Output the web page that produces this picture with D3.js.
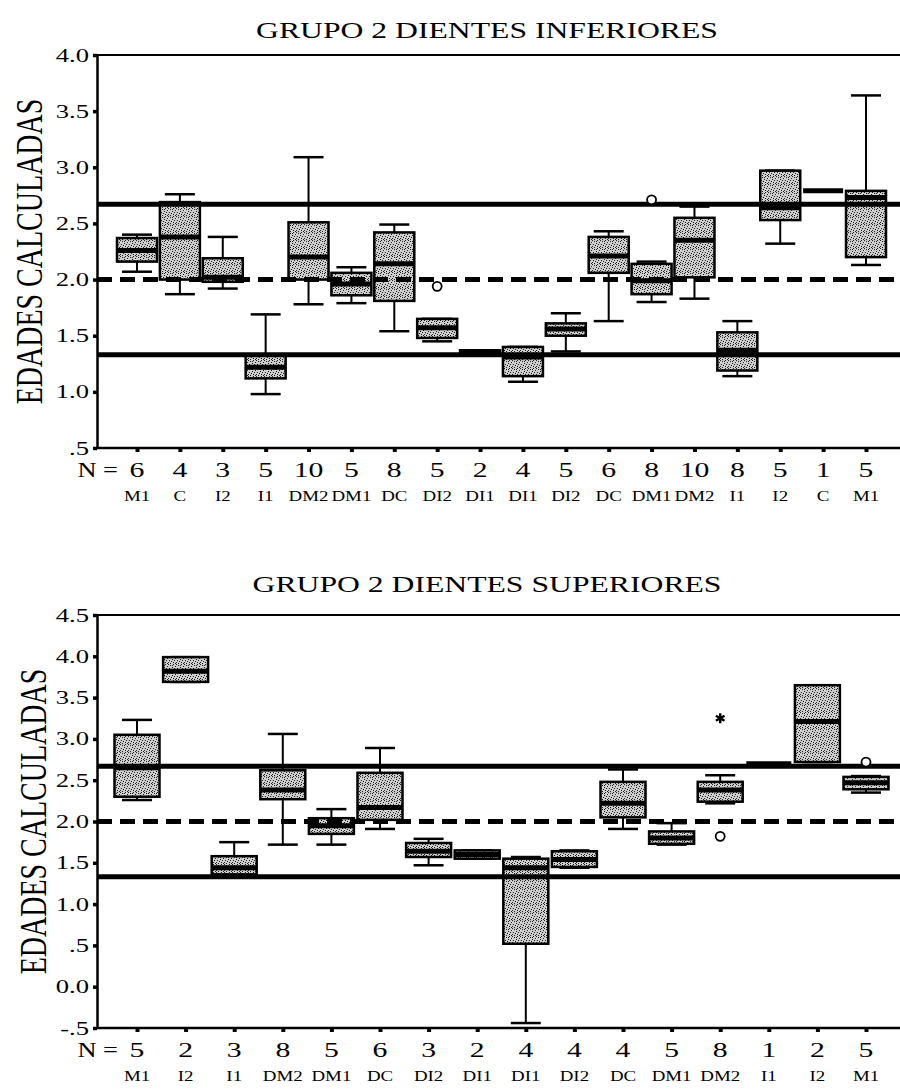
<!DOCTYPE html>
<html><head><meta charset="utf-8">
<script src="https://cdn.jsdelivr.net/npm/d3@7"></script>
<style>body{margin:0;background:#fff}svg{display:block}</style>
</head><body>
<script>
// ---------- DATA ----------
const topTitle = "GRUPO 2 DIENTES INFERIORES";
const topCats = ["M1","C","I2","I1","DM2","DM1","DC","DI2","DI1","DI1","DI2","DC","DM1","DM2","I1","I2","C","M1"];
const topN    = [6,4,3,5,10,5,8,5,2,4,5,6,8,10,8,5,1,5];
const topLo   = [2.07,1.87,1.92,0.98,1.78,1.79,1.54,1.45,1.33,1.09,1.36,1.63,1.80,1.83,1.14,2.32,2.79,2.13];
const topQ1   = [2.16,2.00,1.98,1.12,2.00,1.86,1.81,1.48,1.33,1.14,1.50,2.06,1.87,2.02,1.19,2.53,2.79,2.20];
const topMed  = [2.26,2.38,2.02,1.22,2.20,1.96,2.14,1.57,1.35,1.31,1.56,2.21,1.99,2.35,1.37,2.64,2.79,2.73];
const topQ3   = [2.37,2.69,2.19,1.33,2.51,2.06,2.42,1.65,1.37,1.40,1.61,2.38,2.14,2.55,1.53,2.97,2.79,2.79];
const topHi   = [2.40,2.76,2.38,1.69,3.09,2.11,2.49,1.65,1.37,1.40,1.70,2.43,2.16,2.65,1.63,2.97,2.79,3.64];
const topOutIdx = [7,12];
const topOutVal = [1.94,2.71];
const topOutType = ["o","o"];
const topTicks = [0.5,1.0,1.5,2.0,2.5,3.0,3.5,4.0];
const topTickLabels = [".5","1.0","1.5","2.0","2.5","3.0","3.5","4.0"];

const botTitle = "GRUPO 2 DIENTES SUPERIORES";
const botCats = ["M1","I2","I1","DM2","DM1","DC","DI2","DI1","DI1","DI2","DC","DM1","DM2","I1","I2","M1"];
const botN    = [5,2,3,8,5,6,3,2,4,4,4,5,8,1,2,5];
const botLo   = [2.26,3.69,1.33,1.72,1.72,1.91,1.47,1.55,-0.44,1.44,1.91,1.72,2.22,2.70,2.72,2.35];
const botQ1   = [2.30,3.69,1.36,2.27,1.85,2.02,1.57,1.55,0.52,1.45,2.05,1.73,2.24,2.70,2.72,2.39];
const botMed  = [2.65,3.82,1.44,2.38,1.95,2.17,1.64,1.60,1.44,1.54,2.22,1.80,2.38,2.70,3.21,2.47];
const botQ3   = [3.05,3.99,1.58,2.62,2.04,2.59,1.74,1.65,1.55,1.64,2.48,1.88,2.48,2.70,3.65,2.54];
const botHi   = [3.23,3.99,1.75,3.06,2.15,2.89,1.79,1.65,1.57,1.65,2.63,1.98,2.56,2.70,3.65,2.55];
const botOutIdx = [12,12,15];
const botOutVal = [1.82,3.25,2.72];
const botOutType = ["o","*","o"];
const botTicks = [-0.5,0,0.5,1.0,1.5,2.0,2.5,3.0,3.5,4.0,4.5];
const botTickLabels = ["-.5","0.0",".5","1.0","1.5","2.0","2.5","3.0","3.5","4.0","4.5"];

const refValues = [2.67, 2.0, 1.33];
const refDashed = [false, true, false];
const yTitle = "EDADES CALCULADAS";

// ---------- DRAW ----------
const W = 900, H = 1090, SX = 1.35;
const FONT = "'Liberation Serif','Times New Roman',serif";
const svg = d3.select("body").append("svg").attr("width", W).attr("height", H);

const defs = svg.append("defs");
const pat = defs.append("pattern").attr("id","stip").attr("width",8).attr("height",8)
  .attr("patternUnits","userSpaceOnUse");
pat.append("rect").attr("width",8).attr("height",8).attr("fill","#cdcdcd");
[[0,0],[5,0],[2,1],[7,2],[4,3],[1,4],[6,4],[3,5],[0,6],[5,6],[2,7],[7,7],[4,1]].forEach(p=>pat.append("rect")
  .attr("x",p[0]).attr("y",p[1]).attr("width",1).attr("height",1).attr("fill","#222"));

function stext(g, x, y, str, size, anchor, sx, extra){
  const gg = g.append("g").attr("transform", `translate(${x},${y}) scale(${sx||SX},1)` + (extra||""));
  return gg.append("text").attr("text-anchor", anchor||"middle").attr("font-family", FONT)
    .attr("font-size", size).attr("fill","#000").text(str);
}

function panel(cfg){
  const g = svg.append("g");
  const y = d3.scaleLinear().domain(cfg.domain).range([cfg.yBot, cfg.yTop]);
  const x = d3.scalePoint().domain(d3.range(cfg.cats.length)).range([137, 866]);
  const xL = 97, xR = 905;
  const bw = cfg.bw, cw = cfg.cw;

  stext(g, 487, cfg.titleY, cfg.title, 24, "middle", 1.32);
  stext(g, cfg.yTitleX, (cfg.yTop+cfg.yBot)/2, yTitle, 28, "middle", SX, " rotate(-90)");

  g.append("line").attr("x1",xL).attr("x2",xR).attr("y1",cfg.yTop).attr("y2",cfg.yTop)
    .attr("stroke","#000").attr("stroke-width",2);

  const ay = g.append("g").attr("transform",`translate(${xL},0)`)
    .call(d3.axisLeft(y).tickValues(cfg.ticks).tickSize(4).tickSizeOuter(0).tickFormat(""));
  ay.select(".domain").attr("stroke","#000").attr("stroke-width",2.5);
  ay.selectAll(".tick line").attr("stroke","#000").attr("stroke-width",3.5);
  cfg.ticks.forEach((t,i)=>{
    stext(g, 89, y(t)+6.5, cfg.tickLabels[i], 19, "end", 1.4);
  });

  const ax = g.append("g").attr("transform",`translate(0,${cfg.yBot})`)
    .call(d3.axisBottom(x).tickSize(4).tickSizeOuter(0).tickFormat(""));
  ax.select(".domain").remove();
  g.append("line").attr("x1",xL).attr("x2",xR).attr("y1",cfg.yBot).attr("y2",cfg.yBot)
    .attr("stroke","#000").attr("stroke-width",2.5);
  ax.selectAll(".tick line").attr("stroke","#000").attr("stroke-width",4);

  stext(g, 118, cfg.yBot+29, "N =", 22, "end", 1.2);
  cfg.n.forEach((v,i)=> stext(g, x(i), cfg.yBot+29, String(v), 22, "middle", SX));
  cfg.cats.forEach((c,i)=> stext(g, x(i), cfg.yBot+53, c, 14, "middle", SX));

  const boxes = g.append("g");
  cfg.cats.forEach((c,i)=>{
    const cx = x(i);
    const bg = boxes.append("g");
    if (cfg.n[i] === 1){
      bg.append("line").attr("x1",cx-bw/2).attr("x2",cx+bw/2).attr("y1",y(cfg.med[i])).attr("y2",y(cfg.med[i]))
        .attr("stroke","#000").attr("stroke-width",5);
      return;
    }
    bg.append("line").attr("x1",cx).attr("x2",cx).attr("y1",y(cfg.hi[i])).attr("y2",y(cfg.q3[i]))
      .attr("stroke","#000").attr("stroke-width",2);
    bg.append("line").attr("x1",cx).attr("x2",cx).attr("y1",y(cfg.q1[i])).attr("y2",y(cfg.lo[i]))
      .attr("stroke","#000").attr("stroke-width",2);
    [cfg.hi[i], cfg.lo[i]].forEach(v=>{
      bg.append("line").attr("x1",cx-cw/2).attr("x2",cx+cw/2).attr("y1",y(v)).attr("y2",y(v))
        .attr("stroke","#000").attr("stroke-width",2.5);
    });
    bg.append("rect").attr("x",cx-bw/2).attr("width",bw)
      .attr("y",y(cfg.q3[i])).attr("height",Math.max(2,y(cfg.q1[i])-y(cfg.q3[i])))
      .attr("fill","url(#stip)").attr("stroke","#000").attr("stroke-width",2.5);
    bg.append("line").attr("x1",cx-bw/2).attr("x2",cx+bw/2).attr("y1",y(cfg.med[i])).attr("y2",y(cfg.med[i]))
      .attr("stroke","#000").attr("stroke-width",5);
  });

  refValues.forEach((v,i)=>{
    g.append("line").attr("x1",xL).attr("x2",xR).attr("y1",y(v)).attr("y2",y(v))
      .attr("stroke","#000").attr("stroke-width",5)
      .attr("stroke-dasharray", refDashed[i] ? "15,8" : null);
  });

  cfg.outIdx.forEach((idx,k)=>{
    const v = cfg.outVal[k];
    if (cfg.outType[k] === "o"){
      g.append("circle").attr("cx",x(idx)).attr("cy",y(v)).attr("r",4.5)
        .attr("fill","#fff").attr("stroke","#000").attr("stroke-width",1.8);
    } else {
      g.append("path").attr("transform",`translate(${x(idx)},${y(v)})`)
        .attr("d", d3.symbol(d3.symbolAsterisk, 70)())
        .attr("stroke","#000").attr("stroke-width",2.5).attr("fill","none");
    }
  });
}

panel({title: topTitle, titleY: 38, yTop: 55, yBot: 448, domain: [0.5, 4.0], yTitleX: 42,
  cats: topCats, n: topN, lo: topLo, q1: topQ1, med: topMed, q3: topQ3, hi: topHi,
  outIdx: topOutIdx, outVal: topOutVal, outType: topOutType,
  ticks: topTicks, tickLabels: topTickLabels, bw: 40, cw: 30});

panel({title: botTitle, titleY: 592, yTop: 615, yBot: 1028, domain: [-0.5, 4.5], yTitleX: 46,
  cats: botCats, n: botN, lo: botLo, q1: botQ1, med: botMed, q3: botQ3, hi: botHi,
  outIdx: botOutIdx, outVal: botOutVal, outType: botOutType,
  ticks: botTicks, tickLabels: botTickLabels, bw: 45, cw: 30});
</script>
</body></html>
